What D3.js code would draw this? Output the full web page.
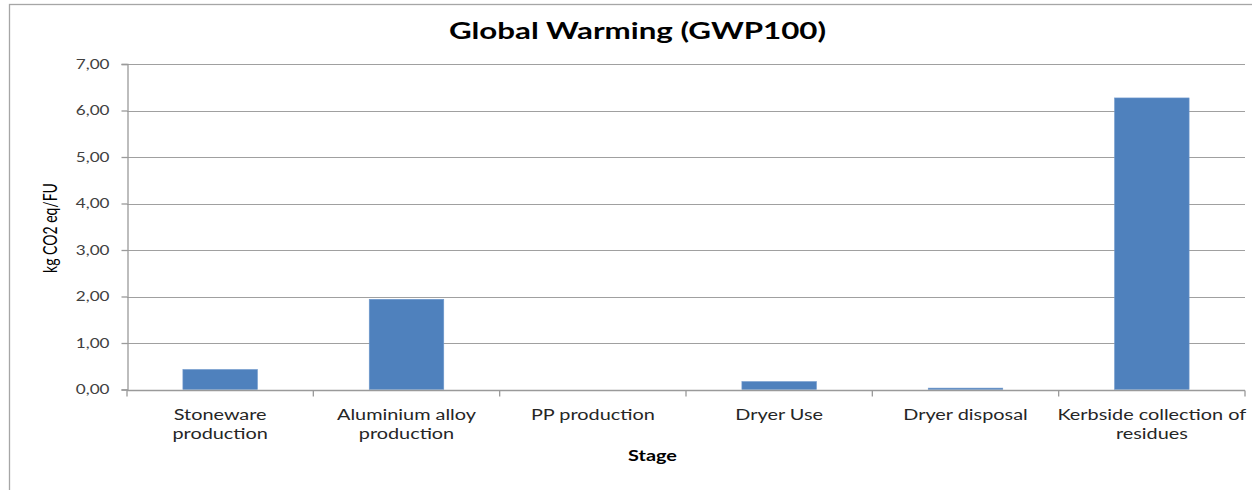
<!DOCTYPE html>
<html>
<head>
<meta charset="utf-8">
<script src="https://cdn.jsdelivr.net/npm/d3@7"></script>
<style>
  html, body { margin: 0; padding: 0; background: #fff; }
  svg { display: block; font-family: Lato, "Open Sans", sans-serif; }
</style>
</head>
<body>
<svg id="chart" width="1252" height="490"></svg>
<script>
// Global warming contribution per life-cycle stage (kg CO2 eq per functional unit)
const categories = [
  "Stoneware production",
  "Aluminium alloy production",
  "PP production",
  "Dryer Use",
  "Dryer disposal",
  "Kerbside collection of residues"
];
const values = [0.43, 1.94, 0.00, 0.17, 0.03, 6.27];
const yTicks = [0, 1, 2, 3, 4, 5, 6, 7];
const titleText = "Global Warming (GWP100)";
const yLabel = "kg CO2 eq/FU";
const xLabel = "Stage";

const svg = d3.select("#chart");
const W = 1252, H = 490;
const plot = { left: 127, right: 1245, top: 64, bottom: 389.5 };
const SX = 1.37; // horizontal widening of the lettering

// Outer chart frame (runs off the right and bottom edges)
svg.append("rect")
  .attr("x", 9.5).attr("y", 4.5)
  .attr("width", W + 10).attr("height", H + 10)
  .attr("fill", "#fff").attr("stroke", "#a6a6a6").attr("stroke-width", 1.3);

const x = d3.scaleBand()
  .domain(categories)
  .range([plot.left, plot.right])
  .paddingInner(0.6).paddingOuter(0.3);

const y = d3.scaleLinear()
  .domain([0, 7])
  .range([plot.bottom, plot.top]);

// Horizontal gridlines
svg.append("g")
  .selectAll("line")
  .data(yTicks.filter(d => d > 0))
  .join("line")
  .attr("x1", plot.left).attr("x2", plot.right)
  .attr("y1", d => Math.round(y(d)) + 0.5).attr("y2", d => Math.round(y(d)) + 0.5)
  .attr("stroke", "#a0a0a0").attr("stroke-width", 1.2);

// Bars
svg.append("g")
  .selectAll("rect")
  .data(values)
  .join("rect")
  .attr("x", (d, i) => x(categories[i]))
  .attr("width", x.bandwidth())
  .attr("y", d => y(d))
  .attr("height", d => plot.bottom - y(d))
  .attr("fill", "#4f81bd")
  .attr("stroke", d => d > 0 ? "#6f98cc" : "none")
  .attr("stroke-width", 0.6);

// Y axis
const yAxis = d3.axisLeft(y)
  .tickValues(yTicks)
  .tickSize(6)
  .tickPadding(8)
  .tickFormat(d => d3.format(".2f")(d).replace(".", ","));
const gy = svg.append("g")
  .attr("transform", `translate(${plot.left + 0.5},0)`)
  .call(yAxis);
gy.select(".domain").attr("stroke", "#9a9a9a").attr("stroke-width", 1.3);
gy.selectAll(".tick line").attr("stroke", "#9a9a9a").attr("stroke-width", 1.3);
gy.selectAll(".tick text")
  .attr("x", 0)
  .attr("transform", `translate(-18,0) scale(${SX},1)`)
  .attr("fill", "#404040")
  .style("font-size", "12.5px")
  .style("font-family", "Lato, sans-serif");

// X axis: ticks sit on the band boundaries
const gx = svg.append("g")
  .attr("transform", `translate(0,${Math.round(plot.bottom) + 0.5})`);
gx.append("line")
  .attr("x1", plot.left).attr("x2", plot.right)
  .attr("stroke", "#9a9a9a").attr("stroke-width", 1.3);
const bounds = d3.range(categories.length + 1).map(i => plot.left + i * x.step());
gx.selectAll("line.tk")
  .data(bounds)
  .join("line")
  .attr("class", "tk")
  .attr("x1", d => d).attr("x2", d => d)
  .attr("y1", 0).attr("y2", 6)
  .attr("stroke", "#9a9a9a").attr("stroke-width", 1.3);

// Category labels, wrapped to the band step
const labelG = svg.append("g")
  .style("font-size", "14.5px")
  .attr("fill", "#262626");
categories.forEach((c, i) => {
  const cx = x(c) + x.bandwidth() / 2;
  const t = labelG.append("text")
    .attr("transform", `translate(${cx},420) scale(${SX},1)`)
    .attr("text-anchor", "middle");
  const words = c.split(" ");
  let lines = [], line = [];
  const probe = labelG.append("text").style("visibility", "hidden");
  words.forEach(w => {
    const trial = line.concat(w).join(" ");
    probe.text(trial);
    if (probe.node().getComputedTextLength() * SX > x.step() + 4 && line.length) {
      lines.push(line.join(" "));
      line = [w];
    } else {
      line.push(w);
    }
  });
  lines.push(line.join(" "));
  probe.remove();
  lines.forEach((l, k) => {
    t.append("tspan").attr("x", 0).attr("dy", k === 0 ? 0 : 19.5).text(l);
  });
});

// Title
svg.append("text")
  .attr("transform", `translate(637.5,39) scale(1.36,1)`)
  .attr("text-anchor", "middle")
  .style("font-size", "23px").style("font-weight", "bold")
  .attr("fill", "#000")
  .text(titleText);

// Axis titles
svg.append("text")
  .attr("transform", `translate(57,228) scale(${SX},1) rotate(-90)`)
  .attr("text-anchor", "middle")
  .style("font-size", "14px")
  .attr("fill", "#000")
  .text(yLabel);

svg.append("text")
  .attr("transform", `translate(652.5,461) scale(${SX},1)`)
  .attr("text-anchor", "middle")
  .style("font-size", "14.5px").style("font-weight", "bold")
  .attr("fill", "#000")
  .text(xLabel);
</script>
</body>
</html>
